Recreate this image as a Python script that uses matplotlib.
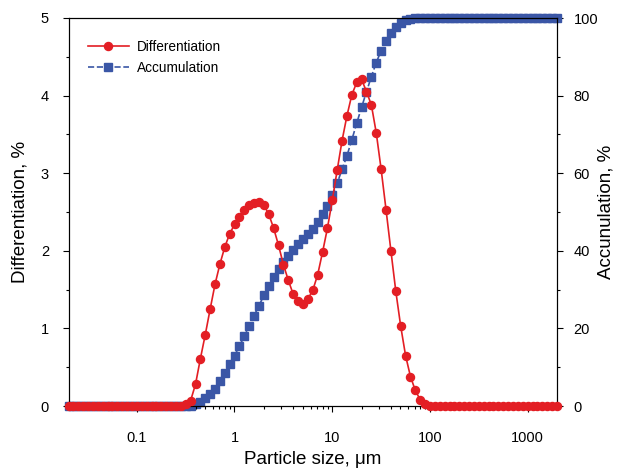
import matplotlib
matplotlib.use("Agg")
import matplotlib.pyplot as plt
from matplotlib.ticker import LogLocator, NullFormatter, FixedLocator, FixedFormatter, MultipleLocator

plt.rcParams['font.family'] = ['Liberation Sans', 'DejaVu Sans']

size_um = [0.02, 0.0224, 0.0252, 0.0283, 0.0317, 0.0356, 0.0399, 0.0448, 0.0502, 0.0564,
           0.0632, 0.0710, 0.0796, 0.0893, 0.1002, 0.1125, 0.1262, 0.1416, 0.1589, 0.1783,
           0.2000, 0.2244, 0.2518, 0.2825, 0.3170, 0.3557, 0.3991, 0.4477, 0.5024, 0.5637,
           0.6325, 0.7096, 0.7962, 0.8934, 1.002, 1.125, 1.262, 1.416, 1.589, 1.783,
           2.000, 2.244, 2.518, 2.825, 3.170, 3.557, 3.991, 4.477, 5.024, 5.637,
           6.325, 7.096, 7.962, 8.934, 10.02, 11.25, 12.62, 14.16, 15.89, 17.83,
           20.00, 22.44, 25.18, 28.25, 31.70, 35.57, 39.91, 44.77, 50.24, 56.37,
           63.25, 70.96, 79.62, 89.34, 100.2, 112.5, 126.2, 141.6, 158.9, 178.3,
           200.0, 224.4, 251.8, 282.5, 317.0, 355.7, 399.1, 447.7, 502.4, 563.7,
           632.5, 709.6, 796.2, 893.4, 1002, 1125, 1262, 1416, 1589, 1783, 2000]

# Differentiation, % (k = 0..100)
differentiation = ([0.0] * 24 +
                   [0.02, 0.07, 0.28, 0.61, 0.92, 1.25, 1.57, 1.83, 2.05, 2.22,
                    2.34, 2.44, 2.52, 2.59, 2.62, 2.63, 2.59, 2.47, 2.29, 2.07,
                    1.82, 1.62, 1.44, 1.35, 1.31, 1.38, 1.49, 1.69, 1.98, 2.29,
                    2.65, 3.04, 3.42, 3.74, 4.01, 4.17, 4.21, 4.05, 3.88, 3.52,
                    3.05, 2.53, 2.00, 1.48, 1.03, 0.65, 0.38, 0.20, 0.08, 0.03] +
                   [0.0] * 27)

# Accumulation, % (k = 0..100)
accumulation = ([0.0] * 25 +
                [0.1, 0.4, 1.1, 2.0, 3.1, 4.5, 6.4, 8.6, 10.8, 13.0,
                 15.5, 18.0, 20.6, 23.3, 25.9, 28.5, 30.9, 33.2, 35.4, 37.1,
                 38.7, 40.2, 41.7, 43.0, 44.3, 45.6, 47.3, 49.5, 51.6, 54.3,
                 57.4, 61.0, 64.5, 68.6, 72.9, 77.0, 81.0, 84.9, 88.5, 91.6,
                 94.1, 96.1, 97.6, 98.6, 99.5, 99.8, 99.9, 100.0] +
                [100.0] * 28)

red = '#E31E24'
blue = '#3A56A6'

fig = plt.figure(figsize=(6.17, 4.70), dpi=100)
ax = fig.add_axes([68.5 / 617, 64 / 470, (557 - 68.5) / 617, (406 - 18) / 470])
ax2 = ax.twinx()

l1, = ax.plot(size_um, differentiation, '-', color=red, lw=1.2, marker='o', ms=5.8,
              mec=red, mfc=red, label='Differentiation', zorder=3, clip_on=False)
l2, = ax2.plot(size_um, accumulation, '--', color=blue, lw=1.2, marker='s', ms=5.3,
               mec=blue, mfc=blue, label='Accumulation', zorder=2, clip_on=False)

ax.set_zorder(ax2.get_zorder() + 1)
ax.patch.set_visible(False)

ax.set_xscale('log')
ax.set_xlim(0.02, 2000)
ax.set_ylim(0, 5)
ax2.set_ylim(0, 100)

ax.xaxis.set_major_locator(FixedLocator([0.1, 1, 10, 100, 1000]))
ax.xaxis.set_major_formatter(FixedFormatter(['0.1', '1', '10', '100', '1000']))
ax.xaxis.set_minor_locator(LogLocator(base=10, subs=range(2, 10), numticks=20))
ax.xaxis.set_minor_formatter(NullFormatter())

ax.yaxis.set_major_locator(MultipleLocator(1))
ax.yaxis.set_minor_locator(MultipleLocator(0.5))
ax2.yaxis.set_major_locator(MultipleLocator(20))
ax2.yaxis.set_minor_locator(MultipleLocator(10))

for a in (ax, ax2):
    a.tick_params(which='major', direction='out', length=4, width=0.8, labelsize=10.5, pad=10)
    a.tick_params(which='minor', direction='out', length=2.5, width=0.8)
ax.tick_params(axis='x', which='major', pad=14)
ax2.tick_params(axis='y', which='major', pad=8)

ax.set_xlabel('Particle size, μm', fontsize=13.5, labelpad=4)
ax.set_ylabel('Differentiation, %', fontsize=13.5)
ax2.set_ylabel('Accunulation, %', fontsize=13.5)
ax.yaxis.label.set_verticalalignment('center')
ax2.yaxis.label.set_verticalalignment('center')
ax.yaxis.set_label_coords(-0.100, 0.5)
ax2.yaxis.set_label_coords(1.100, 0.5)

ax.legend([l1, l2], ['Differentiation', 'Accumulation'], loc='upper left',
          bbox_to_anchor=(0.015, 0.975), frameon=False, fontsize=9.8,
          handlelength=3.0, handletextpad=0.6, labelspacing=0.5)

fig.savefig('out.png', dpi=100)
